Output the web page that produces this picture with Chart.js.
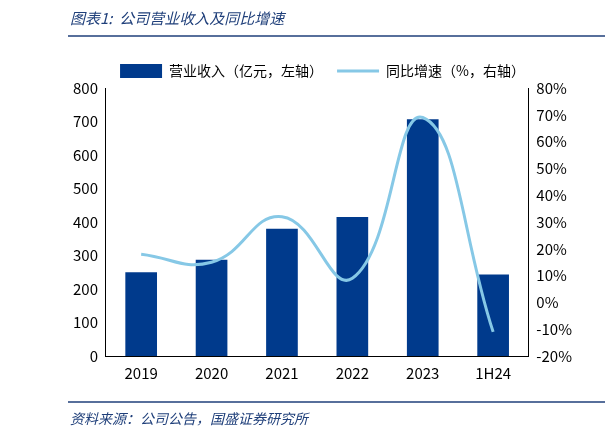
<!DOCTYPE html>
<html><head><meta charset="utf-8">
<script src="https://cdn.jsdelivr.net/npm/chart.js@4"></script>
<style>body{margin:0;background:#fff}</style>
</head><body>
<canvas id="c" width="605" height="440"></canvas>
<script>
const categories = ['2019', '2020', '2021', '2022', '2023', '1H24'];
const revenue = [250, 287, 380, 415, 707, 243];
const growth = [18, 15, 32, 9, 69, -11];

const FONT = '"Noto Sans CJK SC", "Liberation Sans", sans-serif';

const frame = {
  id: 'frame',
  afterDraw(chart) {
    const c = chart.ctx;
    c.save();
    c.fillStyle = '#1f3f7a';
    c.font = 'italic 15px ' + FONT;
    c.textBaseline = 'middle';
    c.fillText('图表1:  公司营业收入及同比增速', 70, 18);
    c.strokeStyle = '#1f3f7a';
    c.lineWidth = 1.5;
    c.beginPath(); c.moveTo(68, 36); c.lineTo(605, 36); c.stroke();
    c.beginPath(); c.moveTo(68, 402); c.lineTo(605, 402); c.stroke();
    c.font = 'italic 14px ' + FONT;
    c.fillText('资料来源：公司公告，国盛证券研究所', 70, 419);
    c.restore();
  }
};

new Chart(document.getElementById('c'), {
  data: {
    labels: categories,
    datasets: [{
      type: 'bar',
      label: '营业收入（亿元，左轴）',
      data: revenue,
      backgroundColor: '#003a8c',
      yAxisID: 'y',
      barPercentage: 0.45,
      categoryPercentage: 1,
      order: 2
    }, {
      type: 'line',
      label: '同比增速（%，右轴）',
      data: growth,
      borderColor: '#86c8e6',
      backgroundColor: '#86c8e6',
      borderWidth: 3,
      pointRadius: 0,
      tension: 0.45,
      yAxisID: 'y1',
      order: 1
    }]
  },
  options: {
    responsive: false,
    animation: false,
    layout: { padding: { top: 50, bottom: 50, left: 70, right: 30 } },
    plugins: {
      legend: {
        labels: {
          usePointStyle: true,
          pointStyleWidth: 42,
          color: '#000',
          font: { size: 14, family: FONT },
          padding: 14,
          generateLabels(chart) {
            return chart.data.datasets.map((d, i) => ({
              text: d.label, datasetIndex: i,
              fillStyle: d.backgroundColor, strokeStyle: d.borderColor || d.backgroundColor,
              lineWidth: i ? 3 : 0, pointStyle: i ? 'line' : 'rect'
            }));
          }
        }
      },
      tooltip: { enabled: false }
    },
    scales: {
      x: {
        grid: { display: false, drawTicks: false },
        border: { color: '#000' },
        ticks: { color: '#000', font: { size: 15, family: FONT }, padding: 8 }
      },
      y: {
        position: 'left', min: 0, max: 800,
        grid: { display: false, drawTicks: true, tickLength: 5 },
        border: { color: '#000' },
        ticks: { stepSize: 100, color: '#000', font: { size: 15, family: FONT } }
      },
      y1: {
        position: 'right', min: -20, max: 80,
        grid: { display: false, tickLength: 5 },
        border: { color: '#000' },
        ticks: { stepSize: 10, color: '#000', font: { size: 15, family: FONT }, callback: v => v + '%' }
      }
    }
  },
  plugins: [frame]
});
</script>
</body></html>
